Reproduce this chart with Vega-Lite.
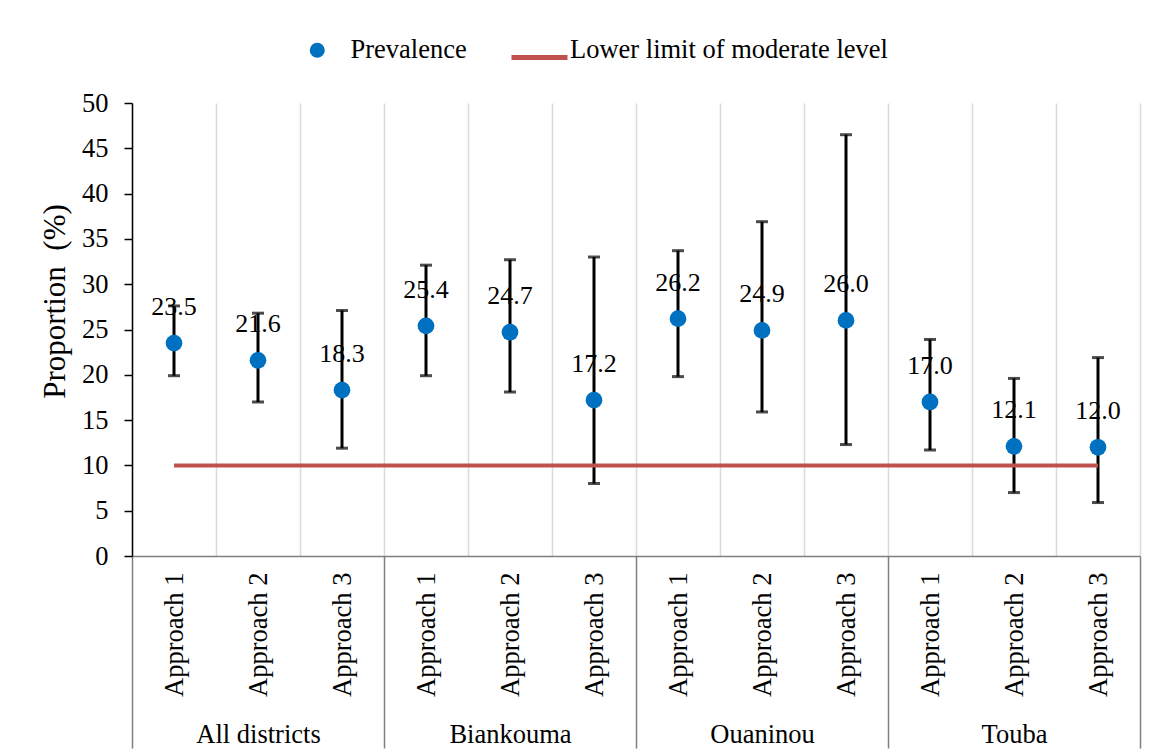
{
  "$schema": "https://vega.github.io/schema/vega-lite/v6.json",
  "width": 1008,
  "height": 453,
  "autosize": {"type": "none"},
  "padding": {"left": 132, "top": 103, "right": 21, "bottom": 199},
  "background": "white",
  "config": {
    "font": "Liberation Serif",
    "view": {"stroke": null},
    "axis": {"labelFont": "Liberation Serif", "titleFont": "Liberation Serif"},
    "legend": {"labelFont": "Liberation Serif"},
    "text": {"font": "Liberation Serif"}
  },
  "data": {
    "values": [
      {"district": "All districts", "approach": "Approach 1", "cat": "All districts|Approach 1", "prev": 23.5, "lo": 19.9, "hi": 27.6},
      {"district": "All districts", "approach": "Approach 2", "cat": "All districts|Approach 2", "prev": 21.6, "lo": 17.0, "hi": 26.8},
      {"district": "All districts", "approach": "Approach 3", "cat": "All districts|Approach 3", "prev": 18.3, "lo": 11.9, "hi": 27.1},
      {"district": "Biankouma", "approach": "Approach 1", "cat": "Biankouma|Approach 1", "prev": 25.4, "lo": 19.9, "hi": 32.1},
      {"district": "Biankouma", "approach": "Approach 2", "cat": "Biankouma|Approach 2", "prev": 24.7, "lo": 18.1, "hi": 32.7},
      {"district": "Biankouma", "approach": "Approach 3", "cat": "Biankouma|Approach 3", "prev": 17.2, "lo": 8.0, "hi": 33.0},
      {"district": "Ouaninou", "approach": "Approach 1", "cat": "Ouaninou|Approach 1", "prev": 26.2, "lo": 19.8, "hi": 33.7},
      {"district": "Ouaninou", "approach": "Approach 2", "cat": "Ouaninou|Approach 2", "prev": 24.9, "lo": 15.9, "hi": 36.9},
      {"district": "Ouaninou", "approach": "Approach 3", "cat": "Ouaninou|Approach 3", "prev": 26.0, "lo": 12.3, "hi": 46.5},
      {"district": "Touba", "approach": "Approach 1", "cat": "Touba|Approach 1", "prev": 17.0, "lo": 11.7, "hi": 23.9},
      {"district": "Touba", "approach": "Approach 2", "cat": "Touba|Approach 2", "prev": 12.1, "lo": 7.0, "hi": 19.6},
      {"district": "Touba", "approach": "Approach 3", "cat": "Touba|Approach 3", "prev": 12.0, "lo": 5.9, "hi": 21.9}
    ]
  },
  "layer": [
    {
      "mark": {"type": "point", "opacity": 0},
      "encoding": {
        "x": {
          "field": "district", "type": "nominal", "sort": null,
          "scale": {"type": "band", "paddingInner": 0, "paddingOuter": 0},
          "axis": {
            "title": null, "orient": "bottom", "domain": false, "ticks": true,
            "tickBand": "extent", "tickSize": 192, "tickColor": "#7f7f7f", "tickWidth": 1.5,
            "labelAngle": 0, "labelPadding": -27, "labelBaseline": "top", "labelFontSize": 26.5,
            "labelFont": "Liberation Serif",
            "labelColor": "black", "grid": false, "zindex": 1
          }
        },
        "y": {
          "field": "prev", "type": "quantitative",
          "scale": {"domain": [0, 50], "nice": false, "zero": true},
          "axis": {
            "title": "Proportion\u00a0\u00a0(%)", "values": [0, 5, 10, 15, 20, 25, 30, 35, 40, 45, 50],
            "grid": false, "domainColor": "black", "domainWidth": 1.5,
            "tickColor": "black", "tickWidth": 1.5, "tickSize": 8,
            "labelFontSize": 26.5, "labelColor": "black", "labelPadding": 16,
            "labelFont": "Liberation Serif", "titleFont": "Liberation Serif",
            "titleFontSize": 31, "titleFontWeight": "normal", "titleColor": "black", "titlePadding": 10,
            "titleY": 198,
            "zindex": 2
          }
        }
      }
    },
    {
      "layer": [
        {
          "mark": {"type": "text", "dy": -28, "baseline": "alphabetic", "fontSize": 26, "font": "Liberation Serif", "color": "black"},
          "encoding": {
            "x": {
              "field": "cat", "type": "nominal",
              "scale": {"type": "band", "paddingInner": 0, "paddingOuter": 0,
                "domain": ["All districts|Approach 1", "All districts|Approach 2", "All districts|Approach 3", "Biankouma|Approach 1", "Biankouma|Approach 2", "Biankouma|Approach 3", "Ouaninou|Approach 1", "Ouaninou|Approach 2", "Ouaninou|Approach 3", "Touba|Approach 1", "Touba|Approach 2", "Touba|Approach 3"]},
              "axis": {
                "title": null, "orient": "bottom", "labelExpr": "split(datum.value, '|')[1]",
                "labelAngle": -90, "labelAlign": "right", "labelBaseline": "middle",
                "labelPadding": 16, "labelFontSize": 26.5, "labelColor": "black",
                "labelFont": "Liberation Serif",
                "ticks": false, "tickBand": "extent", "grid": true, "gridColor": "#d9d9d9", "gridWidth": 1.5,
                "domainColor": "#7f7f7f", "domainWidth": 1.5
              }
            },
            "y": {"field": "prev", "type": "quantitative", "axis": null},
            "text": {"field": "prev", "type": "quantitative", "format": ".1f"}
          }
        },
        {
          "mark": {"type": "rule", "color": "black", "strokeWidth": 3},
          "encoding": {
            "x": {"field": "cat", "type": "nominal"},
            "y": {"field": "lo", "type": "quantitative", "axis": null},
            "y2": {"field": "hi"}
          }
        },
        {
          "mark": {"type": "tick", "orient": "horizontal", "size": 12, "thickness": 3, "color": "black"},
          "encoding": {
            "x": {"field": "cat", "type": "nominal"},
            "y": {"field": "lo", "type": "quantitative", "axis": null}
          }
        },
        {
          "mark": {"type": "tick", "orient": "horizontal", "size": 12, "thickness": 3, "color": "black"},
          "encoding": {
            "x": {"field": "cat", "type": "nominal"},
            "y": {"field": "hi", "type": "quantitative", "axis": null}
          }
        },
        {
          "data": {"values": [{"from": "All districts|Approach 1", "to": "Touba|Approach 3", "limit": 10, "series": "Lower limit of moderate level"}]},
          "mark": {"type": "rule", "strokeWidth": 4, "color": "#C0504D"},
          "encoding": {
            "x": {"field": "from", "type": "nominal"},
            "x2": {"field": "to"},
            "y": {"field": "limit", "type": "quantitative", "axis": null},
            "strokeDash": {
              "field": "series", "type": "nominal",
              "scale": {"domain": ["Lower limit of moderate level"], "range": [[1, 0]]},
              "legend": {
                "orient": "none", "legendX": 377, "legendY": -76, "direction": "horizontal",
                "title": null, "labelFontSize": 26.5, "labelColor": "black", "labelLimit": 600,
                "labelFont": "Liberation Serif",
                "labelBaseline": "alphabetic",
                "symbolType": "stroke", "symbolSize": 3136, "symbolStrokeColor": "#C0504D",
                "symbolStrokeWidth": 5, "labelOffset": 0
              }
            }
          }
        },
        {
          "data": {"values": [
            {"cat": "All districts|Approach 1", "prev": 23.5, "series": "Prevalence"},
            {"cat": "All districts|Approach 2", "prev": 21.6, "series": "Prevalence"},
            {"cat": "All districts|Approach 3", "prev": 18.3, "series": "Prevalence"},
            {"cat": "Biankouma|Approach 1", "prev": 25.4, "series": "Prevalence"},
            {"cat": "Biankouma|Approach 2", "prev": 24.7, "series": "Prevalence"},
            {"cat": "Biankouma|Approach 3", "prev": 17.2, "series": "Prevalence"},
            {"cat": "Ouaninou|Approach 1", "prev": 26.2, "series": "Prevalence"},
            {"cat": "Ouaninou|Approach 2", "prev": 24.9, "series": "Prevalence"},
            {"cat": "Ouaninou|Approach 3", "prev": 26.0, "series": "Prevalence"},
            {"cat": "Touba|Approach 1", "prev": 17.0, "series": "Prevalence"},
            {"cat": "Touba|Approach 2", "prev": 12.1, "series": "Prevalence"},
            {"cat": "Touba|Approach 3", "prev": 12.0, "series": "Prevalence"}
          ]},
          "mark": {"type": "circle", "size": 280, "opacity": 1},
          "encoding": {
            "x": {"field": "cat", "type": "nominal"},
            "y": {"field": "prev", "type": "quantitative", "axis": null},
            "color": {
              "field": "series", "type": "nominal",
              "scale": {"domain": ["Prevalence"], "range": ["#0070C0"]},
              "legend": {
                "orient": "none", "legendX": 172, "legendY": -66, "direction": "horizontal",
                "title": null, "labelFontSize": 26.5, "labelColor": "black", "labelLimit": 400,
                "labelFont": "Liberation Serif",
                "symbolType": "circle", "symbolSize": 227, "labelOffset": 20, "symbolOpacity": 1
              }
            }
          }
        }
      ]
    }
  ],
  "resolve": {"scale": {"x": "independent"}, "axis": {"x": "independent", "y": "independent"}}
}
